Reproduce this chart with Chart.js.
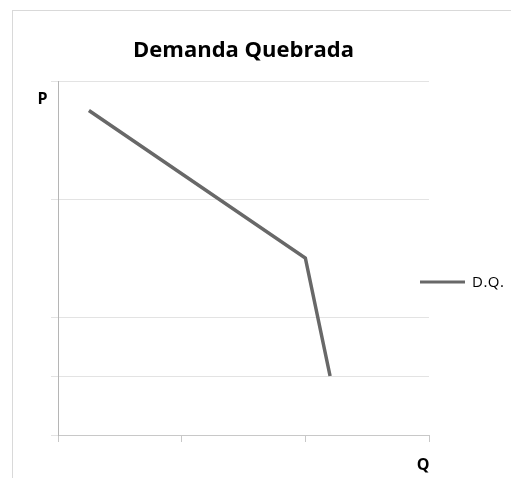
<!DOCTYPE html>
<html>
<head>
<meta charset="utf-8">
<script src="https://cdn.jsdelivr.net/npm/chart.js@4"></script>
<style>
  html, body { margin: 0; padding: 0; background: #fff; }
  #wrap { position: relative; width: 511px; height: 478px; overflow: hidden; }
  #frame { position: absolute; left: 12px; top: 10px; width: 600px; height: 600px; border-left: 1px solid #d9d9d9; border-top: 1px solid #d9d9d9; box-sizing: border-box; }
  canvas { position: absolute; left: 0; top: 0; }
</style>
</head>
<body>
<div id="wrap">
  <div id="frame"></div>
  <canvas id="c" width="511" height="478"></canvas>
</div>
<script>
// Data
const seriesLabel = 'D.Q.';
const qValues = [0.25, 2.0, 2.2];
const pValues = [5.5, 3.0, 1.0];
const xTickValues = [0, 1, 2, 3];
const yGridValues = [0, 1, 2, 4, 6];
const titleText = 'Demanda Quebrada';
const yAxisName = 'P';
const xAxisName = 'Q';

const points = qValues.map((q, i) => ({ x: q, y: pValues[i] }));
const lineColor = '#686868';
const FONT = '"Open Sans", Lato, sans-serif';

const decorPlugin = {
  id: 'decor',
  afterDraw(chart) {
    const ctx = chart.ctx;
    const a = chart.chartArea;
    ctx.save();
    ctx.fillStyle = '#000';
    ctx.font = 'bold 16px ' + FONT;
    ctx.textAlign = 'center';
    ctx.textBaseline = 'middle';
    ctx.fillText(yAxisName, a.left - 15.5, a.top + 18);
    ctx.fillText(xAxisName, a.right - 6, a.bottom + 30);
    // legend
    const ds = chart.data.datasets[0];
    const ly = a.top + 201;
    ctx.strokeStyle = ds.borderColor;
    ctx.lineWidth = 3;
    ctx.beginPath();
    ctx.moveTo(a.right - 9, ly);
    ctx.lineTo(a.right + 36, ly);
    ctx.stroke();
    ctx.font = '15px ' + FONT;
    ctx.textAlign = 'left';
    ctx.fillStyle = '#000';
    try { ctx.letterSpacing = '0.5px'; } catch (e) {}
    ctx.fillText(ds.label, a.right + 43, ly + 1);
    ctx.restore();
  }
};

new Chart(document.getElementById('c'), {
  type: 'scatter',
  data: {
    datasets: [{
      label: seriesLabel,
      data: points,
      showLine: true,
      borderColor: lineColor,
      backgroundColor: lineColor,
      borderWidth: 3.5,
      pointRadius: 0,
      pointHoverRadius: 0,
      tension: 0
    }]
  },
  options: {
    responsive: false,
    animation: false,
    events: [],
    layout: { padding: { left: 51, right: 82, top: 0, bottom: 36 } },
    plugins: {
      legend: { display: false },
      tooltip: { enabled: false },
      title: {
        display: true,
        text: titleText,
        fullSize: false,
        color: '#000',
        font: { family: FONT, size: 22, weight: 'bold', lineHeight: 1.2 },
        padding: { top: 38, bottom: 16.6 }
      }
    },
    scales: {
      x: {
        type: 'linear',
        min: 0,
        max: 3,
        afterBuildTicks(scale) { scale.ticks = xTickValues.map(v => ({ value: v })); },
        ticks: { display: false },
        grid: { drawOnChartArea: false, drawTicks: true, tickLength: 7, color: '#c8c8c8' },
        border: { display: true, color: '#c8c8c8' }
      },
      y: {
        type: 'linear',
        min: 0,
        max: 6,
        afterBuildTicks(scale) { scale.ticks = yGridValues.map(v => ({ value: v })); },
        ticks: { display: false },
        grid: { drawOnChartArea: true, drawTicks: true, tickLength: 7, color: '#e3e3e3' },
        border: { display: true, color: '#b5b5b5' }
      }
    }
  },
  plugins: [decorPlugin]
});
</script>
</body>
</html>
